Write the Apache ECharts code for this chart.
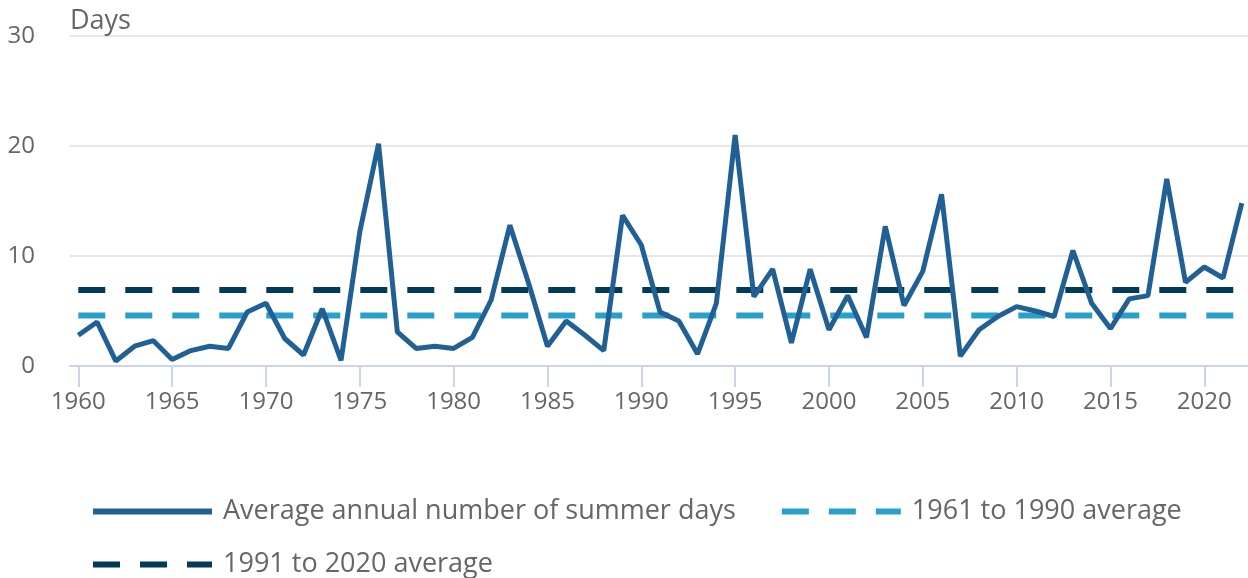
<!DOCTYPE html>
<html>
<head>
<meta charset="utf-8">
<script src="https://cdn.jsdelivr.net/npm/echarts@6/dist/echarts.min.js"></script>
<style>
html,body{margin:0;padding:0;background:#fff;}
#chart{width:1248px;height:578px;}
</style>
</head>
<body>
<div id="chart"></div>
<script>
const years = [];
for (let y = 1960; y <= 2022; y++) years.push(y);
const summerDays = [
  2.8, 4.0, 0.45, 1.8, 2.3, 0.6, 1.4, 1.8, 1.6, 4.9,
  5.7, 2.5, 1.0, 5.2, 0.5, 12.2, 20.2, 3.1, 1.6, 1.8,
  1.6, 2.6, 6.0, 12.8, 7.5, 1.8, 4.1, 2.8, 1.4, 13.7,
  11.0, 4.9, 4.1, 1.1, 5.7, 21.0, 6.3, 8.8, 2.1, 8.8,
  3.3, 6.4, 2.6, 12.7, 5.5, 8.6, 15.6, 0.9, 3.3, 4.5,
  5.4, 5.0, 4.5, 10.5, 5.7, 3.4, 6.1, 6.4, 17.0, 7.6,
  9.0, 8.0, 14.8
];
const avg1961to1990 = 4.6;
const avg1991to2020 = 6.9;
const xTickYears = [1960, 1965, 1970, 1975, 1980, 1985, 1990, 1995, 2000, 2005, 2010, 2015, 2020];
const yTicks = [0, 10, 20, 30];
const seriesNames = ['Average annual number of summer days', '1961 to 1990 average', '1991 to 2020 average'];

const font = 'Open Sans';
const txt = '#666666';
const dashIcon = 'path://M0,0H27V6H0Z M47,0H74V6H47Z M94,0H119V6H94Z';
const solidIcon = 'path://M0,0H119V6H0Z';

const chart = echarts.init(document.getElementById('chart'));
chart.setOption({
  animation: false,
  backgroundColor: '#ffffff',
  grid: { left: 70, right: 0, top: 36, bottom: 212, containLabel: false },
  xAxis: {
    type: 'value',
    min: 1959.558,
    max: 2022.33,
    axisLine: { show: true, lineStyle: { color: '#ccd6eb', width: 2 } },
    axisTick: { show: true, length: 21, lineStyle: { color: '#ccd6eb', width: 2 }, customValues: xTickYears },
    axisLabel: { customValues: xTickYears, fontFamily: font, fontSize: 24, color: txt, margin: 24, formatter: v => String(v) },
    splitLine: { show: false }
  },
  yAxis: {
    type: 'value',
    min: yTicks[0],
    max: yTicks[yTicks.length - 1],
    interval: 10,
    name: 'Days',
    nameLocation: 'end',
    nameGap: 1,
    nameTextStyle: { fontFamily: font, fontSize: 27, color: txt, align: 'left', verticalAlign: 'bottom' },
    axisLine: { show: false },
    axisTick: { show: false },
    axisLabel: { fontFamily: font, fontSize: 24, color: txt, margin: 35 },
    splitLine: { show: true, lineStyle: { color: '#e6e6e6', width: 2 } }
  },
  legend: [
    {
      data: [{ name: seriesNames[0], icon: solidIcon }, { name: seriesNames[1], icon: dashIcon }],
      left: 93, top: 498, padding: 0,
      itemWidth: 119, itemHeight: 6, itemGap: 46,
      textStyle: { fontFamily: font, fontSize: 27, color: txt, padding: [0, 0, 0, 6] }
    },
    {
      data: [{ name: seriesNames[2], icon: dashIcon }],
      left: 93, top: 551, padding: 0,
      itemWidth: 119, itemHeight: 6,
      textStyle: { fontFamily: font, fontSize: 27, color: txt, padding: [0, 0, 0, 6] }
    }
  ],
  series: [
    {
      name: seriesNames[0],
      type: 'line',
      data: years.map((y, i) => [y, summerDays[i]]),
      symbol: 'none',
      z: 3,
      itemStyle: { color: '#206095' },
      lineStyle: { color: '#206095', width: 5 }
    },
    {
      name: seriesNames[1],
      type: 'line',
      data: [[years[0], avg1961to1990], [years[years.length - 1], avg1961to1990]],
      symbol: 'none',
      z: 2,
      itemStyle: { color: '#27a0cc' },
      lineStyle: { color: '#27a0cc', width: 6, type: [27, 20] }
    },
    {
      name: seriesNames[2],
      type: 'line',
      data: [[years[0], avg1991to2020], [years[years.length - 1], avg1991to2020]],
      symbol: 'none',
      z: 2,
      itemStyle: { color: '#003c57' },
      lineStyle: { color: '#003c57', width: 6, type: [27, 20] }
    }
  ]
});
</script>
</body>
</html>
